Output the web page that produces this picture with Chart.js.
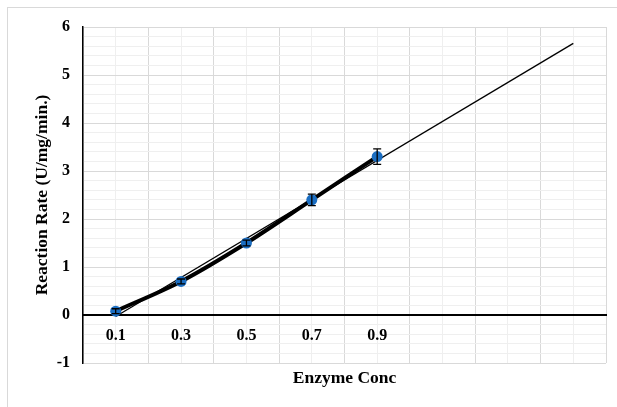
<!DOCTYPE html>
<html>
<head>
<meta charset="utf-8">
<script src="https://cdn.jsdelivr.net/npm/chart.js@4"></script>
<style>
  body { margin: 0; background: #fff; overflow: hidden; }
  #frame { position: absolute; left: 7px; top: 7px; width: 700px; height: 500px; border: 1px solid #d9d9d9; }
  #mycanvas { position: absolute; left: 0; top: 0; }
</style>
</head>
<body>
<div id="frame"></div>
<canvas id="mycanvas" width="617" height="407"></canvas>
<script>
// enzyme concentration categories (last three are empty slots for the trend forecast)
var concLabels = ["0.1", "0.3", "0.5", "0.7", "0.9", "", "", ""];
var rate = [0.08, 0.7, 1.5, 2.4, 3.3];
var rateErr = [0.05, 0.05, 0.06, 0.12, 0.16];
var trend = [-0.03, null, null, null, null, null, null, 5.66];
var yMin = -1, yMax = 6, yMinorStep = 0.2;

var serif = "'Liberation Serif', 'Times New Roman', serif";
var majorGrid = "#d9d9d9";
var minorGrid = "#efefef";

function isWhole(v) {
    return Math.abs(v - Math.round(v)) < 1e-6;
}

var errorBars = {
    id: "errorBars",
    afterDatasetsDraw: function(chart) {
        var meta = chart.getDatasetMeta(0);
        var ys = chart.scales.y;
        var ctx = chart.ctx;
        ctx.save();
        ctx.strokeStyle = "#000";
        ctx.lineWidth = 1.3;
        meta.data.forEach(function(pt, i) {
            var top = ys.getPixelForValue(rate[i] + rateErr[i]);
            var bot = ys.getPixelForValue(rate[i] - rateErr[i]);
            ctx.beginPath();
            ctx.moveTo(pt.x, top); ctx.lineTo(pt.x, bot);
            ctx.moveTo(pt.x - 4, top); ctx.lineTo(pt.x + 4, top);
            ctx.moveTo(pt.x - 4, bot); ctx.lineTo(pt.x + 4, bot);
            ctx.stroke();
        });
        ctx.restore();
    }
};

var chartdata = {
    labels: concLabels,
    datasets: [
        {
            data: rate,
            borderColor: "#000",
            borderWidth: 4,
            tension: 0.3,
            pointRadius: 5.5,
            pointBackgroundColor: "#1b6ec2",
            pointBorderColor: "#1b6ec2",
            pointBorderWidth: 0
        },
        {
            data: trend,
            borderColor: "#000",
            borderWidth: 1.3,
            pointRadius: 0,
            spanGaps: true
        }
    ]
};

var ctx = document.getElementById("mycanvas");
var myChart = new Chart(ctx, {
    type: "line",
    data: chartdata,
    plugins: [errorBars],
    options: {
        responsive: false,
        animation: false,
        layout: { padding: { left: 0, top: 27, right: 11, bottom: 0 } },
        plugins: { legend: { display: false }, tooltip: { enabled: false } },
        scales: {
            x: {
                type: "category",
                position: { y: 0 },
                offset: true,
                grid: { offset: true, color: majorGrid, drawTicks: false },
                border: { color: "#000", width: 2 },
                ticks: {
                    color: "#000",
                    font: { family: serif, size: 16, weight: "bold" },
                    padding: 11,
                    autoSkip: false,
                    maxRotation: 0
                }
            },
            x2: {
                type: "category",
                position: "bottom",
                offset: true,
                grid: { offset: false, color: minorGrid, drawTicks: false },
                border: { display: false },
                ticks: { display: false },
                title: {
                    display: true,
                    text: "Enzyme Conc",
                    color: "#000",
                    font: { family: serif, size: 17.5, weight: "bold" },
                    padding: { top: 0, bottom: 18.5 }
                },
                afterFit: function(s) { s.height = 44; }
            },
            y: {
                min: yMin,
                max: yMax,
                grid: {
                    drawTicks: false,
                    color: function(c) { return isWhole(c.tick.value) ? majorGrid : minorGrid; }
                },
                border: { color: "#000", width: 1.5 },
                ticks: {
                    stepSize: yMinorStep,
                    autoSkip: false,
                    color: "#000",
                    padding: 13,
                    font: { family: serif, size: 16, weight: "bold" },
                    callback: function(v) { return isWhole(v) ? String(Math.round(v)) : ""; }
                },
                title: {
                    display: true,
                    text: "Reaction Rate (U/mg/min.)",
                    color: "#000",
                    font: { family: serif, size: 17.5, weight: "bold" },
                    padding: { top: 31.5, bottom: 0 }
                },
                afterFit: function(s) { s.width = 83; }
            }
        }
    }
});
</script>
</body>
</html>
